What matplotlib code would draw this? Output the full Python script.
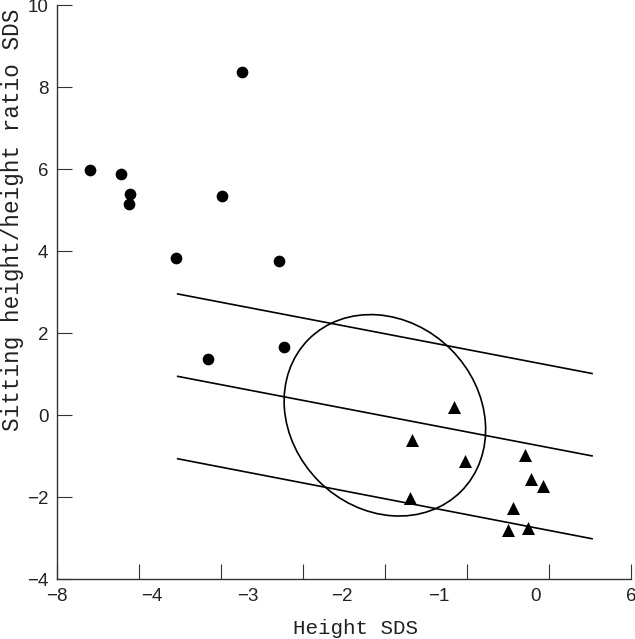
import matplotlib
matplotlib.use('Agg')
import matplotlib.pyplot as plt
from matplotlib.patches import Ellipse
import numpy as np

# group 1 (filled circles)
circle_x = [-7.18, -6.44, -6.21, -6.23, -3.49, -3.96, -5.10, -2.59, -4.30, -2.45]
circle_y = [5.98, 5.89, 5.40, 5.15, 8.37, 5.35, 3.84, 3.77, 1.37, 1.67]

# group 2 (filled triangles)
tri_x = [1.69, 0.67, 1.95, 0.61, 3.42, 3.56, 3.86, 3.13, 2.99, 3.49]
tri_y = [0.20, -0.59, -1.11, -2.02, -0.98, -1.55, -1.72, -2.27, -2.80, -2.74]

# reference band (regression line +/- 2)
band_x = [-5.05, 5.05]
band_upper = [2.96, 1.02]
band_mid = [0.95, -0.99]
band_lower = [-1.06, -3.01]

# ellipse
ell_center = (0.0, 0.0)
ell_width = 5.25
ell_height = 4.55
ell_angle = -45

# axis ticks as printed on the original
xtick_marks = [-8, -6, -4, -2, 0, 2, 4, 6]
xlabel_pos = [-8, -5.68, -3.34, -1.04, 1.32, 3.66, 6]
xlabel_text = ['\u22128', '\u22124', '\u22123', '\u22122', '\u22121', '0', '6']
yticks = [-4, -2, 0, 2, 4, 6, 8, 10]
ytick_text = ['\u22124', '\u22122', '0', '2', '4', '6', '8', '10']

fig = plt.figure(figsize=(6.35, 6.39), dpi=100)
ax = fig.add_axes([0.0893, 0.0934, 0.9044, 0.8983])

ax.scatter(circle_x, circle_y, marker='o', s=71, c='black', linewidths=0, zorder=3)
ax.scatter(tri_x, tri_y, marker='^', s=88, c='black', linewidths=0, zorder=3)

for yy in (band_upper, band_mid, band_lower):
    ax.plot(band_x, yy, color='black', lw=1.2)

ax.add_patch(Ellipse(ell_center, ell_width, ell_height, angle=ell_angle,
                     fill=False, edgecolor='black', lw=1.2))

ax.set_xlim(-8, 6)
ax.set_ylim(-4, 10)

ax.spines['top'].set_visible(False)
ax.spines['right'].set_visible(False)
for s in ('left', 'bottom'):
    ax.spines[s].set_color('#333333')
    ax.spines[s].set_linewidth(1.0)

# tick marks and the printed labels do not line up, so labels go on minor ticks
ax.xaxis.remove_overlapping_locs = False
ax.set_xticks(xtick_marks)
ax.set_xticklabels([''] * len(xtick_marks))
ax.set_xticks(xlabel_pos, xlabel_text, minor=True)
ax.tick_params(axis='x', which='major', direction='in', length=10.5, width=0.8, color='#333333')
ax.tick_params(axis='x', which='minor', length=0, pad=6)

ax.set_yticks(yticks, ytick_text)
ax.tick_params(axis='y', which='major', direction='in', length=10.5, width=0.8, color='#333333', pad=6)

for lab in ax.get_xticklabels(minor=True) + ax.get_yticklabels():
    lab.set_fontfamily('Liberation Sans')
    lab.set_fontsize(13.5)
    lab.set_color('#222222')

ax.set_xlabel('Height SDS', fontfamily='Liberation Mono', fontsize=15, color='#222222')
ax.set_ylabel('Sitting height/height ratio SDS', fontfamily='Liberation Mono', fontsize=16.3, color='#222222')
ax.xaxis.set_label_coords(0.521, -0.069)
ax.yaxis.set_label_coords(-0.057, 0.626)

fig.savefig('out.png', dpi=100)
